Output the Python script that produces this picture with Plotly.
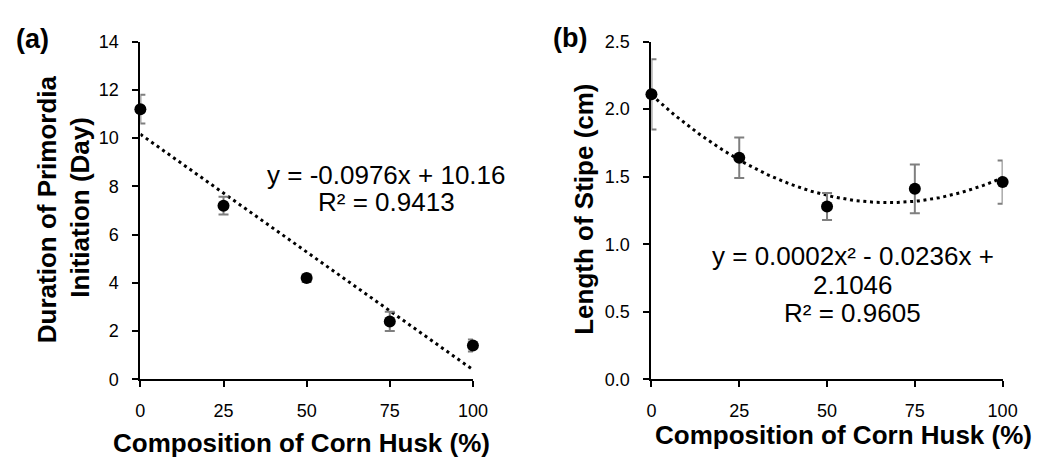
import numpy as np
import plotly.graph_objects as go

# ---- data ----
composition = [0, 25, 50, 75, 100]
primordia_days = [11.2, 7.2, 4.2, 2.4, 1.4]
primordia_err = [0.6, 0.37, 0.15, 0.4, 0.25]
stipe_cm = [2.11, 1.64, 1.28, 1.41, 1.46]
stipe_err = [0.26, 0.15, 0.1, 0.18, 0.16]

x_ticks = [0, 25, 50, 75, 100]
ya_ticks = [0, 2, 4, 6, 8, 10, 12, 14]
yb_ticks = [0.0, 0.5, 1.0, 1.5, 2.0, 2.5]
yb_ticktext = ["0.0", "0.5", "1.0", "1.5", "2.0", "2.5"]

eq_a = ["y = -0.0976x + 10.16", "R² = 0.9413"]
eq_b = ["y = 0.0002x² - 0.0236x +", "2.1046", "R² = 0.9605"]

# trendlines fitted from the data (as the spreadsheet trendline does)
xf = np.linspace(0, 100, 201)
fit_a = np.polyval(np.polyfit(composition, primordia_days, 1), xf)
fit_b = np.polyval(np.polyfit(composition, stipe_cm, 2), xf)

FONT = "Liberation Sans, Arial, sans-serif"
W, H = 1050, 464

fig = go.Figure()

dot = dict(color="black", width=3, dash="3px,3.7px")
err_style = dict(type="data", color="#7f7f7f", thickness=2, width=5)

fig.add_trace(go.Scatter(x=xf, y=fit_a, mode="lines", line=dot,
                         xaxis="x", yaxis="y", cliponaxis=False, hoverinfo="skip"))
fig.add_trace(go.Scatter(x=composition, y=primordia_days, mode="markers",
                         marker=dict(color="black", size=12),
                         error_y=dict(array=primordia_err, **err_style),
                         xaxis="x", yaxis="y", cliponaxis=False))
fig.add_trace(go.Scatter(x=xf, y=fit_b, mode="lines", line=dot,
                         xaxis="x2", yaxis="y2", cliponaxis=False, hoverinfo="skip"))
fig.add_trace(go.Scatter(x=composition, y=stipe_cm, mode="markers",
                         marker=dict(color="black", size=12),
                         error_y=dict(array=stipe_err, **err_style),
                         xaxis="x2", yaxis="y2", cliponaxis=False))

ydom = [1 - 386 / H, 1 - 33 / H]
common = dict(showgrid=False, zeroline=False, showline=True, linecolor="black",
              linewidth=2, ticks="outside", ticklen=6, tickwidth=1.5,
              tickcolor="black", tickfont=dict(family=FONT, size=18, color="black"),
              layer="below traces")

fig.update_layout(
    width=W, height=H, margin=dict(l=0, r=0, t=0, b=0),
    paper_bgcolor="white", plot_bgcolor="white", showlegend=False,
    font=dict(family=FONT, color="black"),
    xaxis=dict(domain=[138 / W, 477 / W], range=[0, 100], tickvals=x_ticks,
               anchor="y", ticklabelstandoff=8, **common),
    yaxis=dict(domain=ydom, range=[0, 14], tickvals=ya_ticks, anchor="x",
               ticklabelstandoff=10, **common),
    xaxis2=dict(domain=[659 / W, 1017 / W], range=[0, 100], tickvals=x_ticks,
                anchor="y2", ticklabelstandoff=8, **common),
    yaxis2=dict(domain=ydom, range=[0, 2.5], tickvals=yb_ticks,
                ticktext=yb_ticktext, anchor="x2", ticklabelstandoff=10, **common),
)


def ann(text, px, py, size, bold=False, angle=0):
    fig.add_annotation(
        text=f"<b>{text}</b>" if bold else text,
        x=px / W, y=1 - py / H, xref="paper", yref="paper",
        xanchor="center", yanchor="middle", showarrow=False, textangle=angle,
        font=dict(family=FONT, size=size, color="black"))


# panel labels
ann("(a)", 28, 30, 27, bold=True)
ann("(b)", 576, 29, 27, bold=True)

# axis titles
ann("Duration of Primordia", 43, 208, 26, bold=True, angle=-90)
ann("Initiation (Day)", 77, 206, 26, bold=True, angle=-90)
ann("Length of Stipe (cm)", 590, 208, 26, bold=True, angle=-90)
ann("Composition of Corn Husk (%)", 302, 452, 26, bold=True)
ann("Composition of Corn Husk (%)", 855, 444, 26, bold=True)

# equations
for t, py in zip(eq_a, [172, 201]):
    ann(t, 389, py, 26)
for t, py in zip(eq_b, [257, 287, 317]):
    ann(t, 864, py, 26)

fig.write_html(
    "out.html",
    config={"displayModeBar": False},
    post_script="document.body.style.margin='0';document.body.style.overflow='hidden';",
)
